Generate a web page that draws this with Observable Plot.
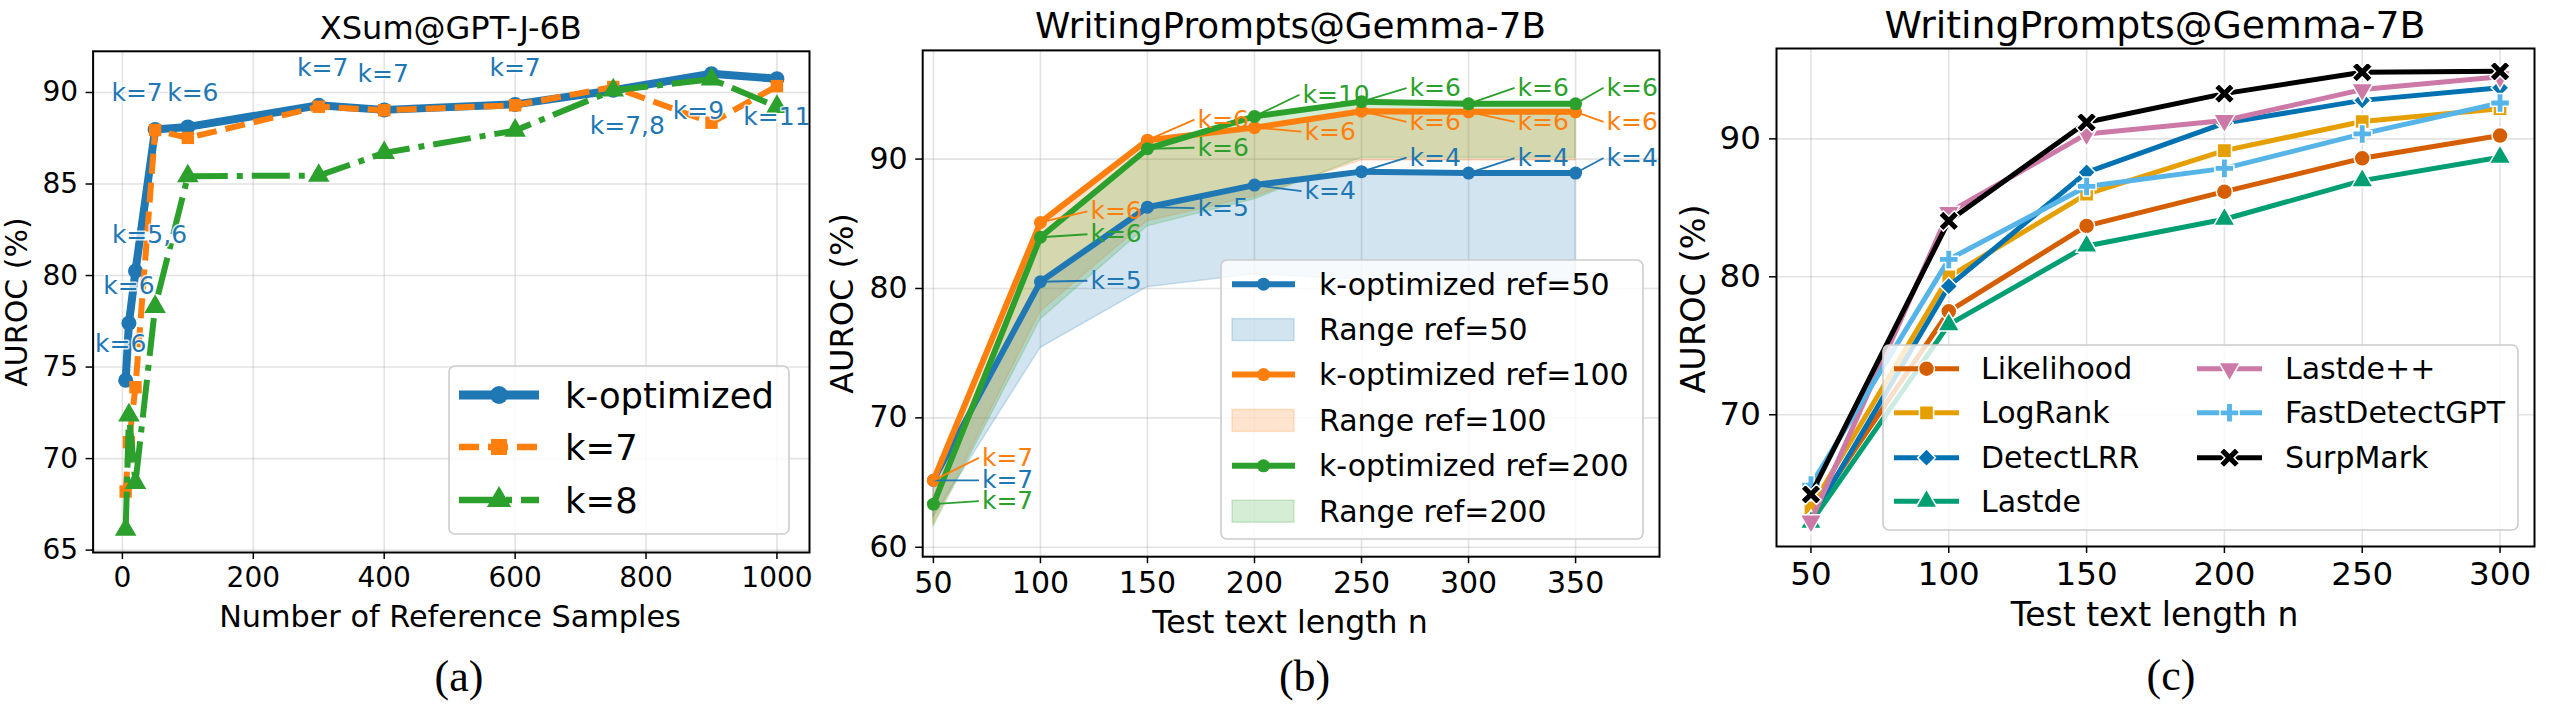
<!DOCTYPE html>
<html><head><meta charset="utf-8">
<script src="https://cdn.jsdelivr.net/npm/d3@7"></script>
<script src="https://cdn.jsdelivr.net/npm/@observablehq/plot@0.6"></script>
<style>
html,body{margin:0;padding:0;background:#fff;}
#root{position:relative;width:2553px;height:705px;overflow:hidden;background:#fff;}
</style></head><body><div id="root"></div><script>
// ---------------- DATA ----------------
// Panel (a): XSum@GPT-J-6B
const refSamples = [5, 10, 20, 50, 100, 300, 400, 600, 750, 900, 1000];
const aurocKOpt  = [74.28, 77.4, 80.25, 87.98, 88.12, 89.3, 89.05, 89.35, 90.12, 91.02, 90.75];
const aurocK7    = [68.2, 70.9, 73.9, 87.95, 87.52, 89.22, 89.03, 89.3, 90.3, 88.35, 90.35];
const aurocK8    = [66.12, 72.37, 68.68, 78.3, 85.43, 85.46, 86.7, 87.92, 90.12, 90.72, 89.22];
const bestKA     = ["k=6", "k=6", "k=5,6", "k=7", "k=6", "k=7", "k=7", "k=7", "k=7,8", "k=9", "k=11"];
const seriesNamesA = ["k-optimized", "k=7", "k=8"];
const ticksAx = [0, 200, 400, 600, 800, 1000];
const ticksAy = [65, 70, 75, 80, 85, 90];

// Panel (b): WritingPrompts@Gemma-7B, k-optimized vs reference size
const lengthsB = [50, 100, 150, 200, 250, 300, 350];
const ref50    = [65.17, 80.52, 86.28, 87.99, 89.03, 88.92, 88.92];
const ref50Lo  = [62.3, 75.4, 80.1, 81.1, 80.7, 80.6, 80.6];
const ref100   = [65.17, 85.1, 91.46, 92.43, 93.7, 93.65, 93.65];
const ref100Lo = [61.8, 78.2, 85.2, 87.1, 89.9, 89.9, 89.9];
const ref200   = [63.33, 83.96, 90.8, 93.3, 94.44, 94.27, 94.27];
const ref200Lo = [61.6, 77.6, 84.8, 86.9, 90.1, 90.1, 90.1];
const ref50K   = ["k=7", "k=5", "k=5", "k=4", "k=4", "k=4", "k=4"];
const ref100K  = ["k=7", "k=6", "k=6", "k=6", "k=6", "k=6", "k=6"];
const ref200K  = ["k=7", "k=6", "k=6", "k=10", "k=6", "k=6", "k=6"];
const legendB  = ["k-optimized ref=50", "Range ref=50", "k-optimized ref=100", "Range ref=100", "k-optimized ref=200", "Range ref=200"];
const ticksBx = [50, 100, 150, 200, 250, 300, 350];
const ticksBy = [60, 70, 80, 90];

// Panel (c): WritingPrompts@Gemma-7B, detectors
const lengthsC = [50, 100, 150, 200, 250, 300];
const methodsC = ["Likelihood", "LogRank", "DetectLRR", "Lastde", "Lastde++", "FastDetectGPT", "SurpMark"];
const likelihood    = [62.8, 77.5, 83.69, 86.17, 88.59, 90.24];
const logRank       = [63.26, 80.0, 85.99, 89.15, 91.26, 92.18];
const detectLRR     = [62.4, 79.32, 87.57, 91.14, 92.79, 93.7];
const lastde        = [62.2, 76.53, 82.23, 84.17, 86.97, 88.67];
const lastdePP      = [62.3, 84.66, 90.36, 91.33, 93.57, 94.5];
const fastDetectGPT = [64.9, 81.26, 86.55, 87.86, 90.36, 92.6];
const surpMark      = [64.23, 84.05, 91.2, 93.28, 94.83, 94.9];
const ticksCx = [50, 100, 150, 200, 250, 300];
const ticksCy = [70, 80, 90];

// ---------------- STYLE ----------------
const C = {blue: "#1f77b4", orange: "#ff7f0e", green: "#2ca02c"};
const CB = ["#d55e00", "#e69f00", "#0072b2", "#009e73", "#cc79a7", "#56b4e9", "#000000"];
const FONT = "DejaVu Sans";
const H = 705;
// label offsets in px (dx, dy) relative to each point
const offA = [[-5,-36],[0,-37],[14,-36],[-18,-36],[5,-33.5],[4,-37],[-1,-36],[0,-36.6],[14,35.6],[-13,37],[0,38]];
const offB50  = [[48.5,0],[50,-1],[50,1],[50,6],[48,-14],[49,-15],[31,-15]];
const offB100 = [[48.5,-22.5],[50,-11],[50,-20.6],[50,4],[48,10.6],[49,10],[31,10]];
const offB200 = [[48.5,-3],[50,-3],[50,-1],[48,-21.6],[48,-13.5],[49,-16],[31,-16]];

const triDown = {draw(ctx, size) {
  const r = Math.sqrt(size / (3 * Math.sqrt(3) / 4)); const h = r * Math.sqrt(3) / 2;
  ctx.moveTo(0, r); ctx.lineTo(h, -r / 2); ctx.lineTo(-h, -r / 2); ctx.closePath();
}};
const xFilled = {draw(ctx, size) {
  const L = Math.sqrt(size) * 0.78, w = L * 0.3;
  const p = [[-w,-L],[w,-L],[w,-w],[L,-w],[L,w],[w,w],[w,L],[-w,L],[-w,w],[-L,w],[-L,-w],[-w,-w]];
  const q = p.map(([x, y]) => [(x - y) / Math.SQRT2, (x + y) / Math.SQRT2]);
  ctx.moveTo(q[0][0], q[0][1]); for (let i = 1; i < q.length; i++) ctx.lineTo(q[i][0], q[i][1]); ctx.closePath();
}};
const symbolsC = ["circle", "square", "diamond2", "triangle", triDown, "cross", xFilled];
const d3Sym = {circle: d3.symbolCircle, square: d3.symbolSquare, diamond2: d3.symbolDiamond2, triangle: d3.symbolTriangle, cross: d3.symbolCross};

const root = document.getElementById("root");
function place(svg, left) { svg.style.position = "absolute"; svg.style.left = left + "px"; svg.style.top = "0px"; root.appendChild(svg); }
const fmt = d3.format("d");
function gridAxes(tx, ty, fs, pad) {
  return [
    Plot.gridX(tx, {stroke: "#b0b0b0", strokeOpacity: 0.35, strokeWidth: 1.6}),
    Plot.gridY(ty, {stroke: "#b0b0b0", strokeOpacity: 0.35, strokeWidth: 1.6}),
    Plot.axisX(tx, {tickSize: 7, tickPadding: pad, tickFormat: fmt, label: null, fontSize: fs, strokeWidth: 1.5}),
    Plot.axisY(ty, {tickSize: 7, tickPadding: pad, tickFormat: fmt, label: null, fontSize: fs, strokeWidth: 1.5}),
  ];
}

// ---------------- PANEL A ----------------
{
  const W = 830, ml = 92.6, mr = 21, mt = 50.8, mb = 153;
  const xd = [-44.75, 1049.75], yd = [64.87, 92.25];
  const kx = (W - ml - mr) / (xd[1] - xd[0]), ky = (H - mt - mb) / (yd[1] - yd[0]);
  const rows = refSamples.map((x, i) => ({x, a: aurocKOpt[i], b: aurocK7[i], c: aurocK8[i], k: bestKA[i], dx: offA[i][0], dy: offA[i][1]}));
  const svg = Plot.plot({
    width: W, height: H, marginLeft: ml, marginRight: mr, marginTop: mt, marginBottom: mb,
    x: {domain: xd}, y: {domain: yd},
    style: {fontFamily: FONT, fontSize: "28px", color: "black", background: "none", overflow: "visible"},
    marks: [
      ...gridAxes(ticksAx, ticksAy, 28, 8),
      Plot.line(rows, {x: "x", y: "a", stroke: C.blue, strokeWidth: 8}),
      Plot.dot(rows, {x: "x", y: "a", r: 7.5, fill: C.blue, symbol: "circle"}),
      Plot.line(rows, {x: "x", y: "b", stroke: C.orange, strokeWidth: 6, strokeDasharray: "20,9", strokeLinecap: "butt"}),
      Plot.dot(rows, {x: "x", y: "b", r: 7, fill: C.orange, symbol: "square"}),
      Plot.line(rows, {x: "x", y: "c", stroke: C.green, strokeWidth: 6, strokeDasharray: "38,9,6,9", strokeLinecap: "butt"}),
      Plot.dot(rows, {x: "x", y: "c", r: 8, fill: C.green, symbol: "triangle"}),
      Plot.text(rows, {x: d => d.x + d.dx / kx, y: d => d.a - d.dy / ky, text: "k", fill: C.blue, fontSize: 25, fontFamily: FONT, stroke: "white", strokeWidth: 3, strokeOpacity: 0.8}),
      Plot.frame({stroke: "black", strokeWidth: 2})
    ]
  });
  place(svg, 0);
}

// ---------------- PANEL B ----------------
{
  const L = 830, W = 840, ml = 92.2, mr = 11, mt = 49.9, mb = 148.8;
  const xd = [45, 389.2], yd = [59.27, 98.4];
  const kx = (W - ml - mr) / (xd[1] - xd[0]), ky = (H - mt - mb) / (yd[1] - yd[0]);
  const series = [
    {v: ref50, lo: ref50Lo, k: ref50K, off: offB50, color: C.blue},
    {v: ref100, lo: ref100Lo, k: ref100K, off: offB100, color: C.orange},
    {v: ref200, lo: ref200Lo, k: ref200K, off: offB200, color: C.green},
  ].map(s => ({color: s.color, rows: lengthsB.map((n, i) => ({n, v: s.v[i], lo: s.lo[i], k: s.k[i], dx: s.off[i][0], dy: s.off[i][1]}))}));
  const marks = [...gridAxes(ticksBx, ticksBy, 30, 8)];
  for (const s of series) marks.push(Plot.areaY(s.rows, {x: "n", y1: "lo", y2: "v", fill: s.color, fillOpacity: 0.2, stroke: s.color, strokeOpacity: 0.2, strokeWidth: 1.5}));
  for (const s of series) {
    marks.push(Plot.line(s.rows, {x: "n", y: "v", stroke: s.color, strokeWidth: 6}));
    marks.push(Plot.dot(s.rows, {x: "n", y: "v", r: 6.5, fill: s.color}));
  }
  for (const s of series) {
    marks.push(Plot.link(s.rows, {x1: "n", y1: "v", x2: d => d.n + (d.dx - 3) / kx, y2: d => d.v - d.dy / ky, stroke: s.color, strokeWidth: 1.8, clip: true}));
    marks.push(Plot.text(s.rows, {x: d => d.n + d.dx / kx, y: d => d.v - d.dy / ky, text: "k", fill: s.color, textAnchor: "start", fontSize: 25, fontFamily: FONT, clip: true}));
  }
  marks.push(Plot.frame({stroke: "black", strokeWidth: 2}));
  const svg = Plot.plot({
    width: W, height: H, marginLeft: ml, marginRight: mr, marginTop: mt, marginBottom: mb,
    x: {domain: xd}, y: {domain: yd},
    style: {fontFamily: FONT, fontSize: "30px", color: "black", background: "none", overflow: "visible"},
    marks
  });
  place(svg, L);
}

// ---------------- PANEL C ----------------
{
  const L = 1670, W = 883, ml = 106, mr = 19, mt = 48, mb = 159;
  const xd = [37.5, 312.5], yd = [60.45, 96.55];
  const vals = [likelihood, logRank, detectLRR, lastde, lastdePP, fastDetectGPT, surpMark];
  const marks = [...gridAxes(ticksCx, ticksCy, 32.5, 8.6)];
  vals.forEach((arr, j) => {
    const rows = lengthsC.map((n, i) => ({n, v: arr[i]}));
    marks.push(Plot.line(rows, {x: "n", y: "v", stroke: CB[j], strokeWidth: 5}));
    marks.push(Plot.dot(rows, {x: "n", y: "v", r: 8, fill: CB[j], stroke: "white", strokeWidth: 1.5, symbol: symbolsC[j]}));
  });
  marks.push(Plot.frame({stroke: "black", strokeWidth: 2}));
  const svg = Plot.plot({
    width: W, height: H, marginLeft: ml, marginRight: mr, marginTop: mt, marginBottom: mb,
    x: {domain: xd}, y: {domain: yd},
    style: {fontFamily: FONT, fontSize: "32.5px", color: "black", background: "none", overflow: "visible"},
    marks
  });
  place(svg, L);
}

// ---------------- OVERLAY: titles, labels, captions, legends ----------------
const ov = d3.select(root).append("svg").attr("width", 2553).attr("height", H)
  .style("position", "absolute").style("left", "0px").style("top", "0px");
function txt(x, y, s, size, o = {}) {
  const t = ov.append("text").attr("x", x).attr("y", y).text(s)
    .attr("font-family", o.family || FONT).attr("font-size", size)
    .attr("text-anchor", o.anchor || "middle").attr("dominant-baseline", "central").attr("fill", "black");
  if (o.rotate) t.attr("transform", `rotate(-90 ${x} ${y})`);
  return t;
}
// titles
txt(450.8, 27.9, "XSum@GPT-J-6B", 32);
txt(1290.5, 25.6, "WritingPrompts@Gemma-7B", 35.7);
txt(2155, 24.7, "WritingPrompts@Gemma-7B", 37.8);
// y labels
txt(16.7, 302, "AUROC (%)", 30, {rotate: true});
txt(842, 303.5, "AUROC (%)", 32, {rotate: true});
txt(1693, 299, "AUROC (%)", 33.5, {rotate: true});
// x labels
txt(450, 616, "Number of Reference Samples", 30.3);
txt(1290, 621.7, "Test text length n", 31.6);
txt(2154.5, 614, "Test text length n", 33);
// captions
txt(459, 676.7, "(a)", 44, {family: "Liberation Serif"});
txt(1304.6, 676.7, "(b)", 44, {family: "Liberation Serif"});
txt(2171, 675, "(c)", 44, {family: "Liberation Serif"});

function legendBox(x, y, w, h) {
  ov.append("rect").attr("x", x).attr("y", y).attr("width", w).attr("height", h).attr("rx", 6)
    .attr("fill", "white").attr("fill-opacity", 0.8).attr("stroke", "#cccccc").attr("stroke-width", 1.6);
}
function handleLine(x1, x2, y, color, width, dash) {
  const l = ov.append("line").attr("x1", x1).attr("x2", x2).attr("y1", y).attr("y2", y)
    .attr("stroke", color).attr("stroke-width", width);
  if (dash) l.attr("stroke-dasharray", dash);
}
function handleSym(x, y, type, size, color, edge) {
  const ty = typeof type === "string" ? d3Sym[type] : type;
  const p = ov.append("path").attr("d", d3.symbol().type(ty).size(size)()).attr("transform", `translate(${x},${y})`).attr("fill", color);
  if (edge) p.attr("stroke", edge).attr("stroke-width", 1.5);
}
// legend A
legendBox(449, 366, 340, 168);
{
  const rowsY = [395, 447, 500];
  const cols = [C.blue, C.orange, C.green];
  const widths = [9, 6.5, 6.5];
  const dashes = [null, "20,9", "38,9,6,9"];
  const syms = ["circle", "square", "triangle"];
  seriesNamesA.forEach((name, i) => {
    handleLine(459, 539, rowsY[i], cols[i], widths[i], dashes[i]);
    handleSym(499, rowsY[i], syms[i], Math.PI * 9 * 9, cols[i]);
    txt(565, rowsY[i], name, 35.4, {anchor: "start"});
  });
}
// legend B
legendBox(1221, 260, 422, 279);
{
  const rowsY = [284.2, 329.6, 374.6, 420.4, 465.8, 511.2];
  const cols = [C.blue, C.blue, C.orange, C.orange, C.green, C.green];
  legendB.forEach((name, i) => {
    if (i % 2 === 0) {
      handleLine(1232, 1295, rowsY[i], cols[i], 6);
      handleSym(1263.5, rowsY[i], "circle", Math.PI * 6.5 * 6.5, cols[i]);
    } else {
      ov.append("rect").attr("x", 1232).attr("y", rowsY[i] - 11).attr("width", 62).attr("height", 22)
        .attr("fill", cols[i]).attr("fill-opacity", 0.2).attr("stroke", cols[i]).attr("stroke-opacity", 0.2).attr("stroke-width", 1.5);
    }
    txt(1319, rowsY[i], name, 30, {anchor: "start"});
  });
}
// legend C
legendBox(1883, 345, 635, 185);
{
  const rowsY = [368.7, 412.8, 457.7, 501.3];
  methodsC.forEach((name, j) => {
    const col = j < 4 ? 0 : 1;
    const r = j < 4 ? j : j - 4;
    const hx = col === 0 ? 1894 : 2197, tx = col === 0 ? 1981 : 2285;
    handleLine(hx, hx + 65, rowsY[r], CB[j], 5);
    handleSym(hx + 32.5, rowsY[r], symbolsC[j], Math.PI * 8 * 8, CB[j], "white");
    txt(tx, rowsY[r], name, 30, {anchor: "start"});
  });
}
</script></body></html>
